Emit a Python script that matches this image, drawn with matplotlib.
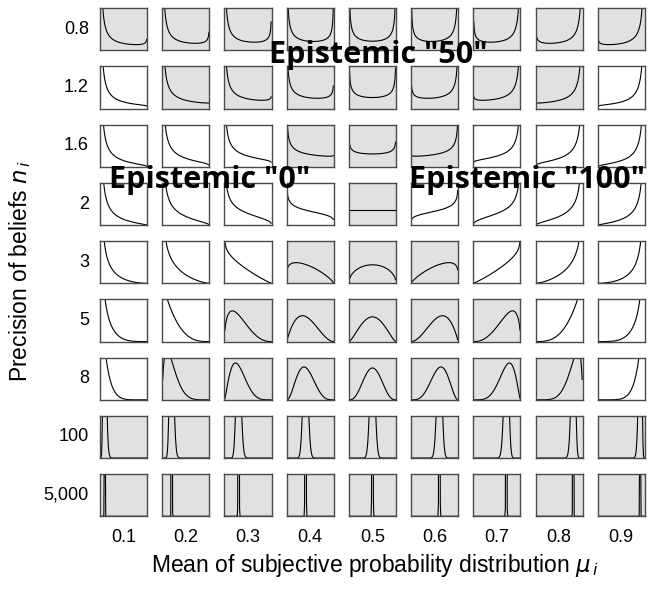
import numpy as np
import matplotlib.pyplot as plt

# mean of the subjective distribution (columns) and precision (rows)
means = [0.1, 0.2, 0.3, 0.4, 0.5, 0.6, 0.7, 0.8, 0.9]
mean_labels = ["0.1", "0.2", "0.3", "0.4", "0.5", "0.6", "0.7", "0.8", "0.9"]
precisions = [0.8, 1.2, 1.6, 2, 3, 5, 8, 100, 5000]
precision_labels = ["0.8", "1.2", "1.6", "2", "3", "5", "8", "100", "5,000"]

# which cells are shaded grey
shaded = [
    [1, 1, 1, 1, 1, 1, 1, 1, 1],
    [0, 1, 1, 1, 1, 1, 1, 1, 0],
    [0, 0, 0, 1, 1, 1, 0, 0, 0],
    [0, 0, 0, 0, 1, 0, 0, 0, 0],
    [0, 0, 0, 1, 1, 1, 0, 0, 0],
    [0, 0, 1, 1, 1, 1, 1, 0, 0],
    [0, 1, 1, 1, 1, 1, 1, 1, 0],
    [1, 1, 1, 1, 1, 1, 1, 1, 1],
    [1, 1, 1, 1, 1, 1, 1, 1, 1],
]

grid_x = np.arange(1, 100) / 100.0


def beta_curve(mu, n):
    a = mu * n
    b = (1 - mu) * n
    logf = (a - 1) * np.log(grid_x) + (b - 1) * np.log(1 - grid_x)
    f = np.exp(logf - logf.max())
    return f / (f.sum() * 0.01)


plt.rcParams['font.family'] = ['Liberation Sans', 'DejaVu Sans']
plt.rcParams['mathtext.fontset'] = 'dejavusans'

fig, axs = plt.subplots(len(precisions), len(means), figsize=(6.54, 5.90), dpi=100)
fig.subplots_adjust(left=0.153, right=0.986, top=0.986, bottom=0.125,
                    wspace=0.32, hspace=0.38)

for i, n in enumerate(precisions):
    for j, mu in enumerate(means):
        ax = axs[i, j]
        if shaded[i][j]:
            ax.set_facecolor('#e1e1e1')
        ax.plot(grid_x, beta_curve(mu, n), color='black', lw=0.8)
        ax.set_xlim(0, 1)
        ax.set_ylim(0, 2.9)
        ax.set_xticks([])
        ax.set_yticks([])
        for s in ax.spines.values():
            s.set_color('#4a4a4a')
            s.set_linewidth(1.0)
        if j == 0:
            ax.set_ylabel(precision_labels[i], rotation=0, ha='right', va='center',
                          fontsize=13, labelpad=8)
        if i == len(precisions) - 1:
            ax.set_xlabel(mean_labels[j], fontsize=13, labelpad=9)

fig.text(0.573, 0.042, r"Mean of subjective probability distribution $\mu_{\,i}$",
         ha='center', va='center', fontsize=16.5)
fig.text(0.03, 0.54, r"Precision of beliefs $n_{\,i}$", ha='center', va='center',
         rotation=90, fontsize=16.5)

# overlay annotations
for label, xp, yp in [('Epistemic "50"', 378, 55),
                      ('Epistemic "0"', 210, 180),
                      ('Epistemic "100"', 527, 180)]:
    fig.text(xp / 654, 1 - yp / 590, label, ha='center', va='center',
             fontsize=22, fontweight='bold', family=['Open Sans', 'DejaVu Sans'],
             zorder=10)

fig.savefig('out.png', dpi=100)
